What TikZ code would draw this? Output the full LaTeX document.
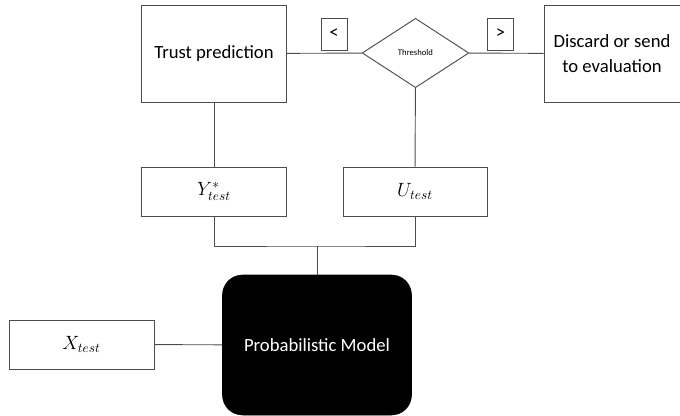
\documentclass[tikz,border=0pt]{standalone}
\usepackage{fontspec}
\setmainfont{Carlito}
\usepackage{tikz}
\usetikzlibrary{shapes.geometric,positioning}

\begin{document}
\begin{tikzpicture}[
  x=0.75pt, y=-0.75pt,
  box/.style={draw=black!70, line width=0.7pt, align=center, inner sep=2pt, font=\fontsize{14}{19}\selectfont},
  sign/.style={box, minimum width=19.5pt, minimum height=24pt},
  decision/.style={diamond, draw=black!70, line width=0.7pt, minimum width=80pt, minimum height=52pt, inner sep=0pt, font=\fontsize{6.5}{8}\selectfont},
  model/.style={draw=black, fill=black, rounded corners=15pt, text=white, align=center, font=\fontsize{14}{17}\selectfont},
  link/.style={draw=black!70, line width=0.7pt}
]
\useasboundingbox (0,0) rectangle (680,416);
\node[box, minimum width=108.75pt, minimum height=72.75pt] (trust) at (214,53.5) {Trust prediction};
\node[decision] (thresh) at (415.5,53) {Threshold};
\node[box, minimum width=102pt, minimum height=72.75pt] (discard) at (612,53.5) {Discard or send\\to evaluation};
\node[sign] (less) at (334,34) {<};
\node[sign] (more) at (500.5,34) {>};
\node[box, minimum width=108.75pt, minimum height=36.75pt] (ystar) at (214,191.5) {$Y^{*}_{test}$};
\node[box, minimum width=108pt, minimum height=36.75pt] (unc) at (415,191.5) {$U_{test}$};
\node[model, minimum width=141.75pt, minimum height=105pt] (model) at (317,345) {Probabilistic Model};
\node[box, minimum width=108.75pt, minimum height=36.75pt] (xtest) at (81.5,344.5) {$X_{test}$};
\coordinate (join) at (317,246);
% connectors
\draw[link] (trust) -- (thresh);
\draw[link] (thresh) -- (discard);
\draw[link] (trust) -- (ystar);
\draw[link] (thresh) -- (unc);
\draw[link] (ystar.south) |- (join) -| (unc.south);
\draw[link] (join) -- (model);
\draw[link] (xtest) -- (model);
\end{tikzpicture}
\end{document}
